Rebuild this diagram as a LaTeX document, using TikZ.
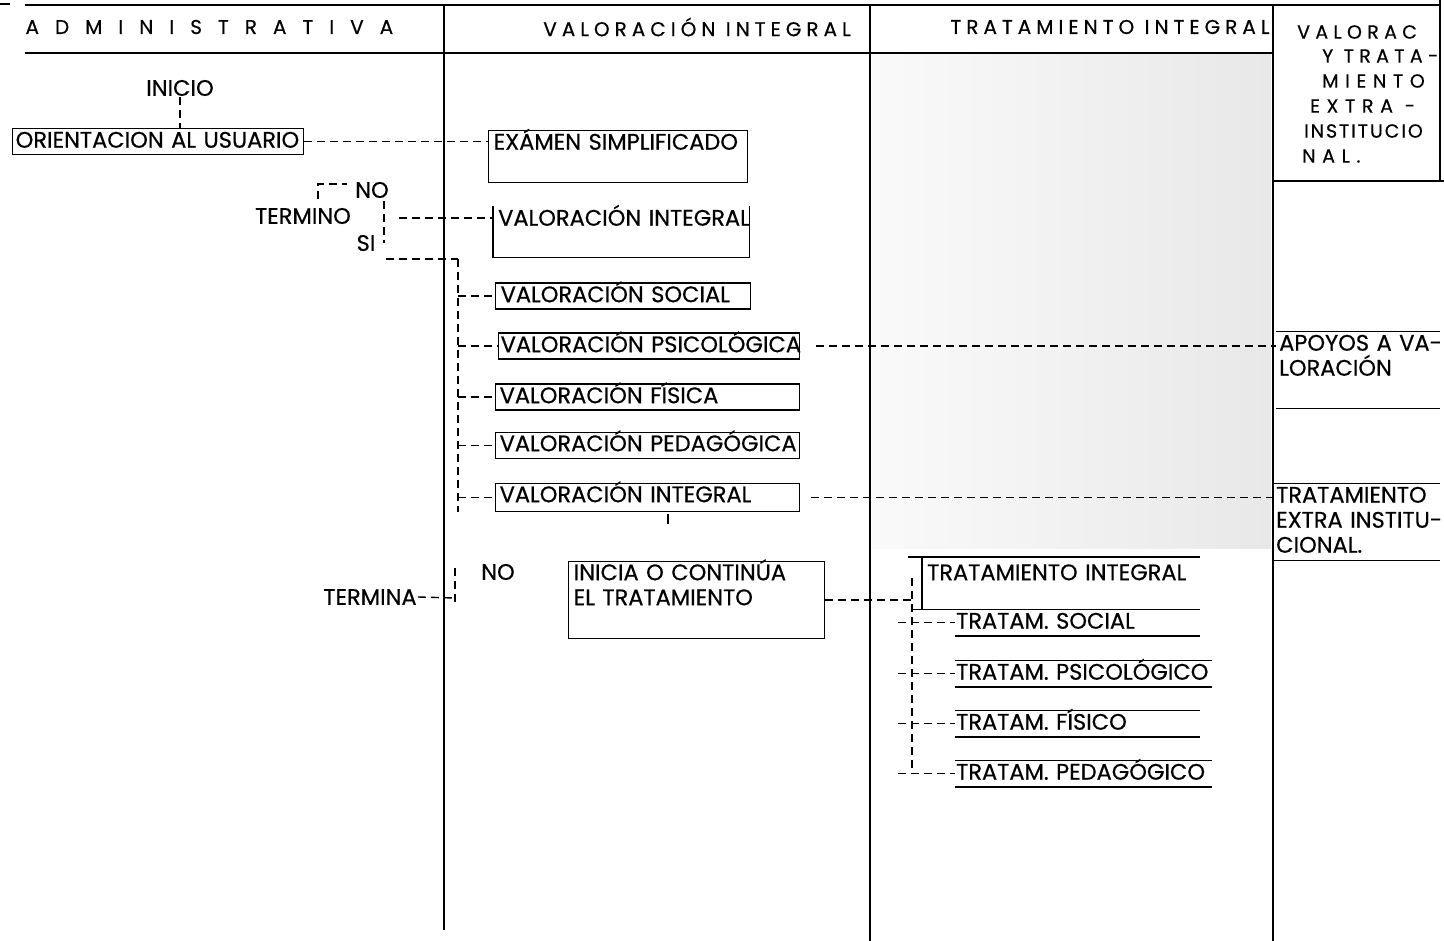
\documentclass[tikz,border=0pt]{standalone}
\usepackage{fontspec}
\setmainfont{Poppins}
\newfontfamily\bxfam[FakeBold=0.5]{Poppins}
\newfontfamily\hdfam[LetterSpace=25, FakeBold=0.4]{Poppins}
\newfontfamily\xtfam[LetterSpace=35, FakeBold=0.4]{Poppins}
\newfontfamily\admfam[LetterSpace=80, FakeBold=0.4]{Poppins}
\newcommand{\bxf}{\bxfam\fontsize{22.5}{25}\selectfont}
\newcommand{\hdf}{\hdfam\fontsize{20}{25}\selectfont}
\newcommand{\admf}{\admfam\fontsize{20}{25}\selectfont}
\newcommand{\xtf}{\xtfam\fontsize{19}{25}\selectfont}
\tikzset{
  rule/.style={line width=1.8pt},
  lin/.style={line width=1.4pt},
  dsh/.style={line width=1.4pt, dash pattern=on 8pt off 5pt},
  bx/.style={anchor=north west, inner xsep=5pt, inner ysep=3pt, text height=16pt,
             text depth=4pt, align=left, font=\bxf},
  full/.style={bx, draw, line width=1.4pt},
  txt/.style={font=\bxf, inner sep=1pt},
  xtl/.style={anchor=west, font=\xtf, inner sep=0pt},
}
\newcommand{\hlines}[1]{%
  \draw[lin] (#1.north west) -- (#1.north east) (#1.south west) -- (#1.south east);}

\begin{document}
\begin{tikzpicture}[x=1pt, y=-1pt]
  \useasboundingbox (0,0) rectangle (1444,941);
  % scan tint
  \fill[left color=black!2, right color=black!9] (872,55) rectangle (1271,548);
  % frame
  \draw[rule] (0,4) -- (10,4) (25,5) -- (1440,5) (25,53) -- (1273,53) (1273,181) -- (1444,181);
  \draw[rule] (444,5) -- (444,930) (870,5) -- (870,941) (1273,5) -- (1273,941) (1440,0) -- (1440,181);
  \coordinate (redge) at (1440,0);
  % headers
  \node[anchor=west, font=\admf] (hadm) at (22,27) {ADMINISTRATIVA};
  \node[font=\hdf] (hval) at (697,27) {VALORACIÓN INTEGRAL};
  \node[font=\hdf] (htra) at (1110,27) {TRATAMIENTO INTEGRAL};
  \node[xtl] (hx1) at (1297,32) {\addfontfeatures{LetterSpace=28}VALORAC};
  \node[xtl] (hx2) at (1322,56) {\addfontfeatures{LetterSpace=28}Y TRATA-};
  \node[xtl] (hx3) at (1322,81) {MIENTO};
  \node[xtl] (hx4) at (1310,106) {EXTRA -};
  \node[xtl] (hx5) at (1304,131) {\addfontfeatures{LetterSpace=10}INSTITUCIO};
  \node[xtl] (hx6) at (1302,156) {NAL.};

  % administrativa
  \node[txt] (inicio) at (180,88) {INICIO};
  \node[full, inner xsep=3pt, text width=285pt] (orient) at (12,128) {\mbox{ORIENTACION AL USUARIO}};
  \draw[dsh] (inicio.south) -- (inicio.south |- orient.north);
  \node[txt] (termino) at (303,216) {TERMINO};
  \node[txt] (no1) at (372,190) {NO};
  \node[txt] (si) at (366,243) {SI};
  \draw[dsh] (318,199) |- (347,184);
  \coordinate (dj) at (384,201);
  \coordinate (noj) at (399,218);
  \coordinate (sij) at (386,259);
  \coordinate (vbus) at (458,259);
  \draw[dsh] (dj) -- ++(0,42);
  \node[txt] (termina) at (370,597) {TERMINA};
  \node[txt] (no2) at (498,572) {NO};
  \coordinate (tj) at (455,598);
  \draw[dsh] (termina.east) -- (tj);
  \draw[dsh] (tj) ++(0,-30) -- ++(0,36);

  % valoracion integral
  \node[full, text width=249pt, text depth=30pt] (exa) at (488,130) {\mbox{EXÁMEN SIMPLIFICADO}};
  \node[bx, text width=246pt, text depth=28.5pt] (vi1) at (493,206.5) {\mbox{VALORACIÓN INTEGRAL}};
  \draw[lin] (vi1.north west) -- (vi1.south west) -- (vi1.south east) -- (vi1.north east);
  \node[full, text width=245pt] (vs) at (495,282.5) {\mbox{VALORACIÓN SOCIAL}};
  \node[full, inner xsep=2pt, text width=297pt] (vp) at (498,332.5) {\mbox{VALORACIÓN PSICOLÓGICA}};
  \node[full, inner xsep=4pt, text width=296pt] (vf) at (495,383.5) {\mbox{VALORACIÓN FÍSICA}};
  \node[full, inner xsep=4pt, text width=296pt] (vpe) at (495,431.5) {\mbox{VALORACIÓN PEDAGÓGICA}};
  \node[full, inner xsep=4pt, text width=296pt, text depth=6.5pt] (vi2) at (495,482.5) {\mbox{VALORACIÓN INTEGRAL}};
  \draw[lin] (668,514) -- (668,524);
  \node[full, text width=246pt, text depth=55.5pt] (ini) at (568,560.5) {INICIA O CONTINÚA\\EL TRATAMIENTO};

  \draw[dsh] (orient.east) -- (orient.east -| exa.west);
  \draw[dsh] (noj) -- (noj -| vi1.west);
  \draw[dsh] (sij) -- (vbus);
  \draw[dsh] (vbus) -- (vbus |- vi2.south);
  \foreach \n in {vs,vp,vf,vpe,vi2}
    \draw[dsh] (vbus |- \n.west) -- (\n.west);

  % tratamiento integral
  \node[bx, text height=20pt, text depth=26pt, text width=268pt] (ti) at (922,557) {\mbox{TRATAMIENTO INTEGRAL}};
  \draw[lin] ([xshift=-14pt]ti.north west) -- (ti.north east);
  \draw[lin] (ti.north west) -- (ti.south west);
  \draw[lin] ([xshift=-10pt]ti.south west) -- (ti.south east);
  \node[bx, inner xsep=1pt, text width=243pt] (ts) at (955,609.5) {\mbox{TRATAM. SOCIAL}};
  \node[bx, inner xsep=1pt, text width=255pt] (tp) at (955,660.5) {\mbox{TRATAM. PSICOLÓGICO}};
  \node[bx, inner xsep=1pt, text width=243pt] (tf) at (955,710.5) {\mbox{TRATAM. FÍSICO}};
  \node[bx, inner xsep=1pt, text width=255pt] (tpe) at (955,760.5) {\mbox{TRATAM. PEDAGÓGICO}};
  \hlines{ts} \hlines{tp} \hlines{tf} \hlines{tpe}
  \coordinate (tbus) at (912,578);
  \draw[dsh] (ini.east) -- (ini.east -| tbus);
  \draw[dsh] (tbus) -- ([yshift=6pt]tbus |- tpe.west);
  \foreach \n in {ts,tp,tf,tpe}
    \draw[dsh] ([xshift=-14pt]tbus |- \n.west) -- (\n.west);

  % extra institucional
  \node[bx, inner xsep=3pt, text width=175pt, text depth=54.5pt] (apo) at (1276,331.5) {APOYOS A VA-\\LORACIÓN};
  \node[bx, inner xsep=3pt, text width=175pt, text depth=54.5pt] (tei) at (1273,483.5) {TRATAMIENTO\\EXTRA INSTITU-\\CIONAL.};
  \draw[lin] (apo.north west) -- (apo.north west -| redge) (apo.south west) -- (apo.south west -| redge);
  \draw[lin] (tei.north west) -- (tei.north west -| redge) (tei.south west) -- (tei.south west -| redge);
  \draw[dsh] ([xshift=16pt]vp.east) -- (vp.east -| apo.west);
  \draw[dsh] ([xshift=11pt]vi2.east) -- (vi2.east -| tei.west);
\end{tikzpicture}
\end{document}
